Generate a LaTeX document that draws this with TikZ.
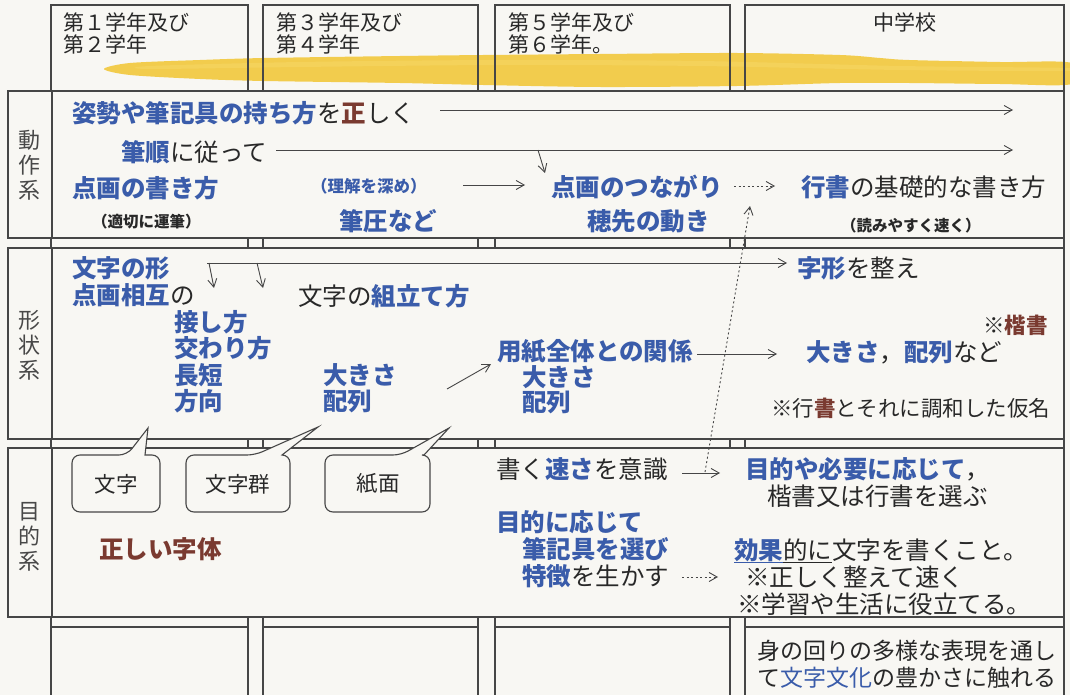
\documentclass[tikz,border=0pt]{standalone}
\usepackage{fontspec}
\setmainfont{Noto Sans CJK JP}
\usetikzlibrary{arrows.meta}
\definecolor{jblue}{RGB}{58,92,170}
\definecolor{ink}{RGB}{40,40,40}
\definecolor{jbrown}{RGB}{122,58,48}
\definecolor{paper}{RGB}{248,247,243}
\definecolor{brush}{RGB}{242,200,60}
\definecolor{brushlight}{RGB}{246,214,100}
\definecolor{rule}{RGB}{70,70,70}
\newcommand\jb[1]{{\color{jblue}\bfseries #1}}
\newcommand\jr[1]{{\color{jbrown}\bfseries #1}}
\tikzset{
  txt/.style={anchor=west, inner sep=0pt, text=ink, font=\fontsize{24.5}{26}\selectfont},
  midtxt/.style={anchor=west, inner sep=0pt, text=ink, font=\fontsize{21.5}{23}\selectfont},
  smalltxt/.style={anchor=west, inner sep=0pt, text=ink, font=\fontsize{15.5}{17}\selectfont\bfseries},
  headtxt/.style={anchor=west, inner sep=0pt, text=ink, font=\fontsize{21}{23}\selectfont},
  labtxt/.style={inner sep=0pt, text=ink!85, align=center, font=\fontsize{22}{25}\selectfont},
  bubtxt/.style={inner sep=0pt, text=ink, font=\fontsize{21.5}{23}\selectfont},
  frame/.style={draw=rule, line width=1.1pt},
  rowbox/.style={frame, fill=paper},
  arr/.style={draw=rule, line width=0.9pt, -{Straight Barb[length=8pt,width=9pt]}},
  darr/.style={arr, dash pattern=on 2pt off 2.5pt},
}
\begin{document}
\begin{tikzpicture}[x=1pt,y=-1pt]
\useasboundingbox (0,0) rectangle (1070,695);
\clip (0,0) rectangle (1070,695);
\fill[paper] (0,0) rectangle (1070,695);
% brush stroke
\fill[brush, opacity=0.9] plot[smooth cycle, tension=0.5] coordinates {
 (104,69) (130,63) (200,60) (264,58) (400,56) (483,55) (600,54) (737,53) (840,55) (880,58) (909,60) (1000,62) (1072,63)
 (1072,84) (1000,84) (909,83) (840,83) (737,86) (600,87) (483,85) (400,83) (264,81) (200,79) (130,75)};
\fill[brushlight, opacity=0.6] plot[smooth cycle, tension=0.5] coordinates {
 (150,66) (300,62) (500,60) (700,61) (900,66) (1072,68) (1072,71) (900,70) (700,66) (500,65) (300,67) (150,69)};
% columns
\draw[frame] (51,5) rectangle (248,720);
\draw[frame] (263,5) rectangle (478,720);
\draw[frame] (495,5) rectangle (730,720);
\draw[frame] (745,5) rectangle (1064,720);
\draw[frame] (51,627) -- (248,627);
\draw[frame] (263,627) -- (478,627);
\draw[frame] (495,627) -- (730,627);
\draw[frame] (745,627) -- (1064,627);
% rows
\draw[rowbox] (8,91) rectangle (1064,238);
\draw[rowbox] (8,248) rectangle (1064,439);
\draw[rowbox] (8,448) rectangle (1064,617);
\draw[frame] (52,91) -- (52,238);
\draw[frame] (52,248) -- (52,439);
\draw[frame] (52,448) -- (52,617);
% header
\node[headtxt] (h1a) at (63,22) {第１学年及び};
\node[headtxt] (h1b) at (63,44) {第２学年};
\node[headtxt] (h2a) at (276,22) {第３学年及び};
\node[headtxt] (h2b) at (276,44) {第４学年};
\node[headtxt] (h3a) at (508,22) {第５学年及び};
\node[headtxt] (h3b) at (508,44) {第６学年。};
\node[headtxt, anchor=center] (h4) at (905,23) {中学校};
% labels
\node[labtxt] (L1) at (29,165) {動\\作\\系};
\node[labtxt] (L2) at (29,345) {形\\状\\系};
\node[labtxt] (L3) at (29,537) {目\\的\\系};
% row 1
\node[txt] (r1a) at (72,113) {\jb{姿勢や筆記具の持ち方}を\jr{正}しく};
\coordinate (a1s) at (440,110); \coordinate (a1e) at (1013,110);
\draw[arr] (a1s) -- (a1e);
\node[txt] (r1b) at (121,152) {\jb{筆順}に従って};
\coordinate (a2s) at (276,150); \coordinate (a2e) at (1013,150);
\draw[arr] (a2s) -- (a2e);
\coordinate (a3s) at (538,150); \coordinate (a3e) at (545,173);
\draw[arr] (a3s) -- (a3e);
\node[txt] (r1c) at (72,188) {\jb{点画の書き方}};
\node[smalltxt, text=jblue, font=\fontsize{16.5}{18}\selectfont\bfseries] (r1d) at (311,186) {（理解を深め）};
\coordinate (a4s) at (463,185); \coordinate (a4e) at (525,185);
\draw[arr] (a4s) -- (a4e);
\node[txt] (r1e) at (551,187) {\jb{点画のつながり}};
\coordinate (a5s) at (734,186); \coordinate (a5e) at (775,186);
\draw[darr] (a5s) -- (a5e);
\node[txt] (r1f) at (801,187) {\jb{行書}の基礎的な書き方};
\node[smalltxt] (r1g) at (92,222) {（適切に運筆）};
\node[txt] (r1h) at (339,221) {\jb{筆圧など}};
\node[txt] (r1i) at (587,221) {\jb{穂先の動き}};
\node[smalltxt] (r1j) at (841,226) {（読みやすく速く）};
% row 2
\node[txt] (r2a) at (72,268) {\jb{文字の形}};
\node[txt] (r2b) at (72,295) {\jb{点画相互}の};
\coordinate (b1s) at (207,263); \coordinate (b1e) at (787,263);
\draw[arr] (b1s) -- (b1e);
\coordinate (b2s) at (209,263); \coordinate (b2e) at (214,288);
\draw[arr] (b2s) -- (b2e);
\coordinate (b3s) at (257,263); \coordinate (b3e) at (263,288);
\draw[arr] (b3s) -- (b3e);
\node[txt] (r2c) at (797,268) {\jb{字形}を整え};
\node[txt] (r2d) at (298,296) {文字の\jb{組立て方}};
\node[txt] (r2e) at (174,322) {\jb{接し方}};
\node[txt] (r2f) at (174,348) {\jb{交わり方}};
\node[txt] (r2g) at (174,375) {\jb{長短}};
\node[txt] (r2h) at (174,401) {\jb{方向}};
\node[txt] (r2i) at (323,375) {\jb{大きさ}};
\node[txt] (r2j) at (323,401) {\jb{配列}};
\coordinate (b4s) at (447,389); \coordinate (b4e) at (491,364);
\draw[arr] (b4s) -- (b4e);
\node[txt] (r2k) at (497,352) {\jb{用紙全体との関係}};
\coordinate (b5s) at (697,354); \coordinate (b5e) at (777,354);
\draw[arr] (b5s) -- (b5e);
\node[txt] (r2l) at (522,377) {\jb{大きさ}};
\node[txt] (r2m) at (522,402) {\jb{配列}};
\node[txt] (r2n) at (806,352) {\jb{大きさ}，\jb{配列}など};
\node[midtxt, anchor=east] (r2o) at (1048,325) {※\jr{楷書}};
\node[midtxt] (r2p) at (771,408) {※行\jr{書}とそれに調和した仮名};
% long dotted arrow
\coordinate (c1s) at (705,472); \coordinate (c1e) at (750,206);
\draw[darr] (c1s) -- (c1e);
% bubbles
\draw[frame, fill=paper] (145,455) [rounded corners=8pt] -- (160,455) -- (160,512) -- (72,512) -- (72,455) -- (127,455) [sharp corners] -- (148,428) -- cycle;
\draw[frame, fill=paper] (282,455) [rounded corners=8pt] -- (290,455) -- (290,512) -- (186,512) -- (186,455) -- (255,455) [sharp corners] -- (318,427) -- cycle;
\draw[frame, fill=paper] (424,455) [rounded corners=8pt] -- (430,455) -- (430,512) -- (325,512) -- (325,455) -- (401,455) [sharp corners] -- (449,428) -- cycle;
\node[bubtxt] (q1) at (116,484) {文字};
\node[bubtxt] (q2) at (238,484) {文字群};
\node[bubtxt] (q3) at (378,484) {紙面};
% row 3
\node[txt] (r3a) at (496,469) {書く\jb{速さ}を意識};
\coordinate (d1s) at (682,473); \coordinate (d1e) at (720,473);
\draw[arr] (d1s) -- (d1e);
\node[txt] (r3b) at (745,469) {\jb{目的や必要に応じて}，};
\node[txt] (r3c) at (767,496) {楷書又は行書を選ぶ};
\node[txt] (r3d) at (496,522) {\jb{目的に応じて}};
\node[txt] (r3e) at (522,549) {\jb{筆記具を選び}};
\node[txt] (r3f) at (522,576) {\jb{特徴}を生かす};
\coordinate (d2s) at (682,577); \coordinate (d2e) at (718,577);
\draw[darr] (d2s) -- (d2e);
\node[txt] (r3g) at (99,549) {\jr{正しい字体}};
\node[txt] (r3h) at (734,550) {\jb{効果}的に文字を書くこと。};
\draw[jblue, line width=0.9pt] (r3h.south west) ++(0,1) -- ++(49,0);
\draw[ink, line width=0.9pt] ([xshift=49pt,yshift=-1pt]r3h.south west) -- ++(49,0);
\node[txt] (r3i) at (745,577) {※正しく整えて速く};
\node[txt] (r3j) at (737,604) {※学習や生活に役立てる。};
% row 4
\node[txt, font=\fontsize{23}{25}\selectfont] (r4a) at (757,651) {身の回りの多様な表現を通し};
\node[txt, font=\fontsize{23}{25}\selectfont] (r4b) at (757,678) {て{\color{jblue}文字文化}の豊かさに触れる};
\end{tikzpicture}
\end{document}
